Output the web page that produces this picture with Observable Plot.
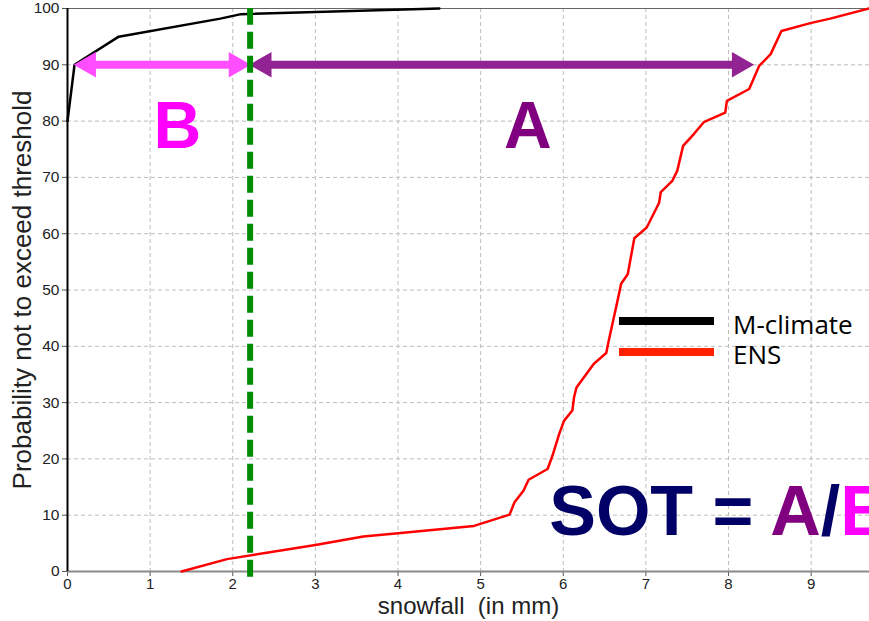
<!DOCTYPE html>
<html>
<head>
<meta charset="utf-8">
<script src="https://cdn.jsdelivr.net/npm/d3@7"></script>
<script src="https://cdn.jsdelivr.net/npm/@observablehq/plot@0.6"></script>
<style>
  body { margin: 0; background: #fff; }
  #wrap { position: relative; width: 869px; height: 621px; overflow: hidden; }
  .legline { position: absolute; }
  .legtext { position: absolute; font-family: 'Open Sans', Lato, sans-serif; font-size: 26px; color: #000; line-height: 30px; white-space: nowrap; }
</style>
</head>
<body>
<div id="wrap"></div>
<script>
// ---- data ----
const mclimX = [0, 0.085, 0.62, 1.85, 2.1, 4.5];
const mclimY = [80, 90, 95, 98.2, 99, 100];

const ensX = [1.38, 1.93, 3.0, 3.58, 4.0, 4.92, 5.35, 5.41, 5.52, 5.58, 5.81, 5.87, 5.95, 6.01, 6.11, 6.13, 6.16, 6.37, 6.52, 6.55, 6.61, 6.67, 6.70, 6.78, 6.82, 6.86, 7.01, 7.16, 7.18, 7.32, 7.38, 7.45, 7.58, 7.70, 7.96, 7.98, 8.25, 8.37, 8.51, 8.64, 8.99, 9.23, 9.70];
const ensY = [0, 2.2, 4.7, 6.2, 6.8, 8.1, 10.1, 12.3, 14.4, 16.3, 18.2, 20.6, 24.4, 26.8, 28.6, 30.9, 32.7, 36.9, 38.8, 41.0, 45.0, 49.0, 51.1, 52.8, 56.0, 59.2, 61.1, 65.5, 67.4, 69.4, 71.2, 75.6, 77.7, 79.8, 81.5, 83.6, 85.7, 89.8, 91.9, 96.0, 97.4, 98.2, 100];

const xTicks = [0, 1, 2, 3, 4, 5, 6, 7, 8, 9];
const yTicks = [0, 10, 20, 30, 40, 50, 60, 70, 80, 90, 100];

const sotThreshold = 2.21;   // green dashed line
const arrowLevel = 90;       // probability level of arrows
const mclimAt90 = 0.085;     // M-climate value at 90%
const ensAt90 = 8.30;        // ENS value at 90%

const labelB = {x: 1.33, y: 79, text: "B"};
const labelA = {x: 5.57, y: 79, text: "A"};
const sotLabel = {x: 5.83, y: 10.5, text: "SOT = A/B"};

const legendNames = ["M-climate", "ENS"];
const legendColors = ["#000000", "#ff2200"];

// ---- build tables ----
const mclim = mclimX.map((x, i) => ({x, y: mclimY[i]}));
const ens = ensX.map((x, i) => ({x, y: ensY[i]}));

const colB = "#ff4dff";
const colA = "#922392";

const plot = Plot.plot({
  width: 869,
  height: 621,
  marginLeft: 67,
  marginRight: 0,
  marginTop: 8,
  marginBottom: 50,
  style: {fontFamily: "'Liberation Sans', Arial, sans-serif", background: "#fff", overflow: "visible"},
  x: {domain: [0, 9.706], label: null},
  y: {domain: [0, 100], label: null},
  marks: [
    Plot.gridX(xTicks.filter(d => d > 0), {stroke: "#bdbdbd", strokeOpacity: 1, strokeDasharray: "4,3"}),
    Plot.gridY(yTicks.filter(d => d > 0 && d < 100), {stroke: "#bdbdbd", strokeOpacity: 1, strokeDasharray: "4,3"}),
    Plot.axisX(xTicks, {tickSize: 5, tickPadding: 2, fontSize: 15, fill: "#222", stroke: "#555", label: null, tickFormat: d => d}),
    Plot.axisY(yTicks, {tickSize: 5, tickPadding: 3, fontSize: 15.5, fill: "#222", stroke: "#555", label: null}),
    Plot.ruleY([0], {stroke: "#8a8a8a", strokeWidth: 2}),
    Plot.ruleY([100], {stroke: "#666", strokeWidth: 1}),
    Plot.ruleX([0], {stroke: "#000", strokeWidth: 2}),
    Plot.line(mclim, {x: "x", y: "y", stroke: "#000", strokeWidth: 2.5}),
    Plot.line(ens, {x: "x", y: "y", stroke: "#ff0000", strokeWidth: 2.5}),
    // arrow B (magenta)
    Plot.ruleY([{y: arrowLevel, x1: mclimAt90, x2: sotThreshold}], {y: "y", x1: "x1", x2: "x2", stroke: colB, strokeWidth: 8, insetLeft: 14, insetRight: 14}),
    Plot.dot([{x: mclimAt90, y: arrowLevel}], {x: "x", y: "y", symbol: "triangle", r: 9.5, rotate: -90, fill: colB, stroke: null, dx: 14}),
    Plot.dot([{x: sotThreshold, y: arrowLevel}], {x: "x", y: "y", symbol: "triangle", r: 9.5, rotate: 90, fill: colB, stroke: null, dx: -14}),
    // arrow A (purple)
    Plot.ruleY([{y: arrowLevel, x1: sotThreshold, x2: ensAt90}], {y: "y", x1: "x1", x2: "x2", stroke: colA, strokeWidth: 8, insetLeft: 14, insetRight: 14}),
    Plot.dot([{x: sotThreshold, y: arrowLevel}], {x: "x", y: "y", symbol: "triangle", r: 9.5, rotate: -90, fill: colA, stroke: null, dx: 14}),
    Plot.dot([{x: ensAt90, y: arrowLevel}], {x: "x", y: "y", symbol: "triangle", r: 9.5, rotate: 90, fill: colA, stroke: null, dx: -14}),
    // green dashed threshold line
    Plot.ruleX([sotThreshold], {y1: -1, y2: 100, stroke: "#008a00", strokeWidth: 6, strokeDasharray: "17,7"}),
    // labels
    Plot.text([labelB], {x: "x", y: "y", text: "text", fontSize: 66, fontWeight: "bold", fill: "#ff00ff", lineAnchor: "middle"}),
    Plot.text([labelA], {x: "x", y: "y", text: "text", fontSize: 66, fontWeight: "bold", fill: "#800080", lineAnchor: "middle"}),
    Plot.text([sotLabel], {x: "x", y: "y", text: "text", fontSize: 70, fontWeight: "bold", fill: "#000066", textAnchor: "start", lineAnchor: "middle", className: "sot"}),
    // axis titles
    Plot.text(["snowfall\u00a0 (in mm)"], {frameAnchor: "bottom", dy: 35, fontSize: 24, fill: "#222", textAnchor: "middle", lineAnchor: "middle"}),
    Plot.text(["Probability not to exceed threshold"], {frameAnchor: "left", dx: -45, rotate: -90, fontSize: 26, fill: "#222", textAnchor: "middle", lineAnchor: "middle"})
  ]
});

// multicolour SOT formula
d3.select(plot).selectAll("g.sot text").each(function() {
  const t = d3.select(this);
  t.text(null);
  t.append("tspan").attr("fill", "#000066").text("SOT = ");
  t.append("tspan").attr("fill", "#800080").text("A");
  t.append("tspan").attr("fill", "#000066").text("/");
  t.append("tspan").attr("fill", "#ff00ff").text("B");
});

const wrap = document.getElementById("wrap");
wrap.appendChild(plot);

// legend overlay
legendColors.forEach((c, i) => {
  const line = document.createElement("div");
  line.className = "legline";
  line.style.left = "619px"; line.style.top = (317 + i * 31) + "px";
  line.style.width = "95px"; line.style.height = "8px";
  line.style.background = c;
  wrap.appendChild(line);
});
const txt = document.createElement("div");
txt.className = "legtext";
txt.style.left = "733px"; txt.style.top = "309px";
txt.innerHTML = legendNames.join("<br>");
wrap.appendChild(txt);
</script>
</body>
</html>
